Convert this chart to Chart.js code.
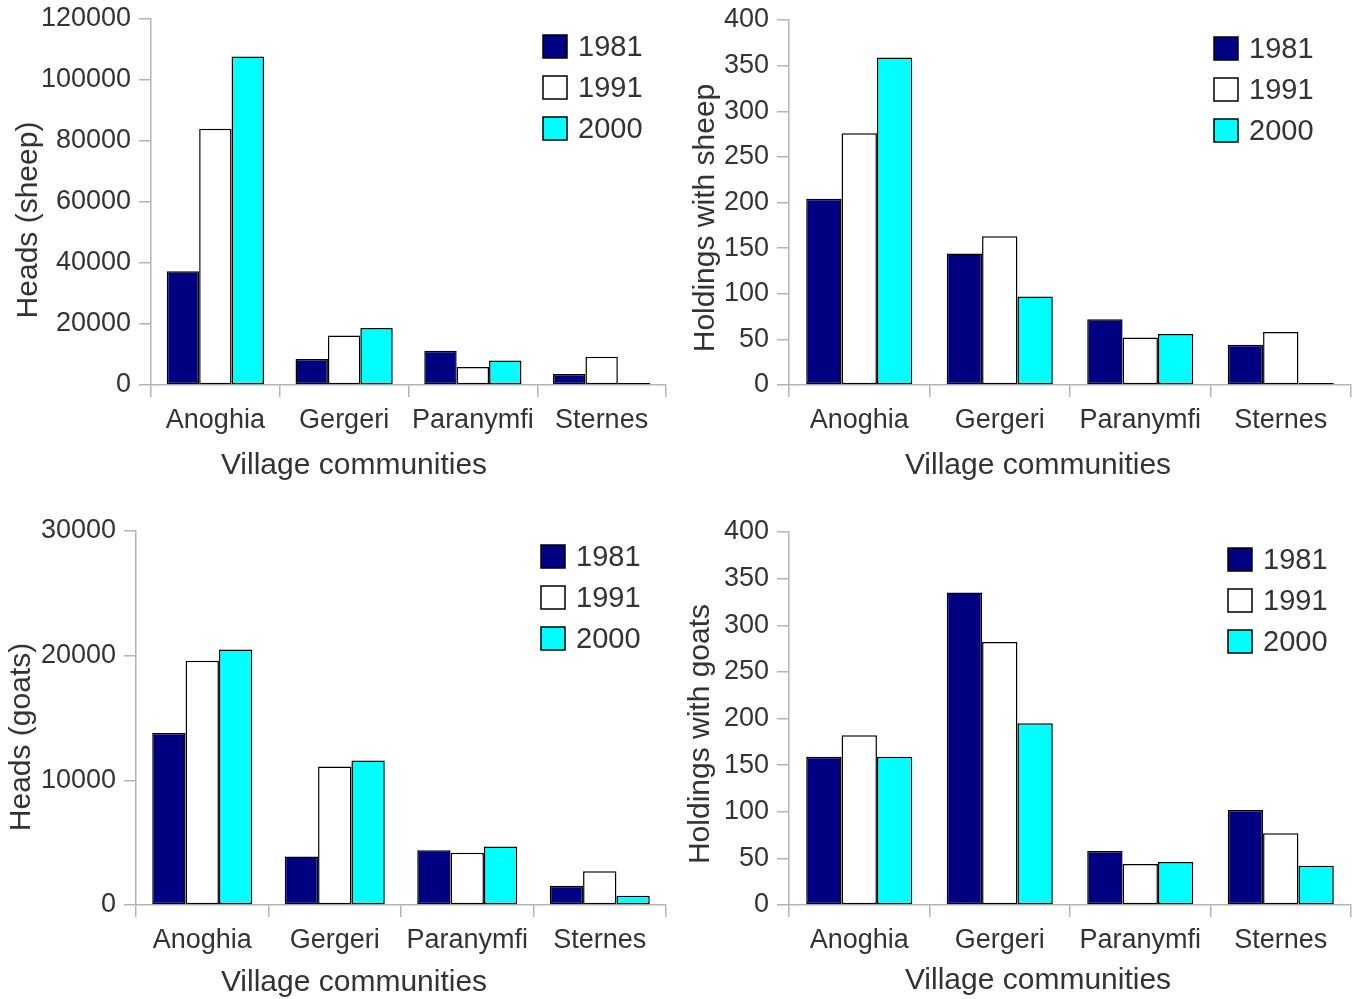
<!DOCTYPE html>
<html>
<head>
<meta charset="utf-8">
<title>Sheep and goats in the village communities</title>
<script src="https://cdn.jsdelivr.net/npm/chart.js@4.4.1/dist/chart.umd.min.js"></script>
<style>
  html, body { margin: 0; padding: 0; background: #ffffff; }
  #wrap { position: relative; width: 1356px; height: 999px; overflow: hidden; }
  #wrap canvas { position: absolute; left: 0; top: 0; }
</style>
</head>
<body>
<div id="wrap">
  <canvas id="sheepHeads" width="1356" height="999"></canvas>
  <canvas id="sheepHoldings" width="1356" height="999"></canvas>
  <canvas id="goatHeads" width="1356" height="999"></canvas>
  <canvas id="goatHoldings" width="1356" height="999"></canvas>
</div>
<script>
// Categories and census years
const villages = ['Anoghia', 'Gergeri', 'Paranymfi', 'Sternes'];
const years = ['1981', '1991', '2000'];

// Heads of sheep
const sheepHeads1981 = [37300, 8500, 11200, 3600];
const sheepHeads1991 = [84000, 16200, 5900, 9300];
const sheepHeads2000 = [107700, 18700, 8000, 0];

// Holdings with sheep
const sheepHoldings1981 = [204, 144, 72, 44];
const sheepHoldings1991 = [276, 163, 52, 58];
const sheepHoldings2000 = [359, 97, 56, 0];

// Heads of goats
const goatHeads1981 = [13800, 3900, 4400, 1550];
const goatHeads1991 = [19600, 11100, 4200, 2700];
const goatHeads2000 = [20500, 11600, 4700, 750];

// Holdings with goats
const goatHoldings1981 = [159, 335, 58, 102];
const goatHoldings1991 = [182, 282, 44, 77];
const goatHoldings2000 = [159, 195, 46, 42];

// Value axis ranges: [max, tick step, labelled step]
const sheepHeadsAxis = [120000, 10000, 20000];
const sheepHoldingsAxis = [400, 50, 50];
const goatHeadsAxis = [30000, 10000, 10000];
const goatHoldingsAxis = [400, 50, 50];

// Axis titles
const xTitle = 'Village communities';
const sheepHeadsTitle = 'Heads (sheep)';
const sheepHoldingsTitle = 'Holdings with sheep';
const goatHeadsTitle = 'Heads (goats)';
const goatHoldingsTitle = 'Holdings with goats';

const FILLS = ['#000080', '#ffffff', '#00ffff'];
const TEXT = '#333333';
const AXIS = '#b4b4b4';
const FAMILY = '"Liberation Sans", Arial, Helvetica, sans-serif';

Chart.defaults.font.family = FAMILY;
Chart.defaults.color = TEXT;

// Axis titles and the year key, drawn on top of each panel
const decorPlugin = {
  id: 'decor',
  afterDraw(chart, args, o) {
    const ctx = chart.ctx;
    ctx.save();
    ctx.fillStyle = TEXT;
    ctx.font = '30px ' + FAMILY;
    ctx.textAlign = 'center';
    ctx.textBaseline = 'middle';
    ctx.fillText(o.xTitle, o.xTitleX, o.xTitleY);
    ctx.save();
    ctx.translate(o.yTitleX, o.yTitleY);
    ctx.rotate(-Math.PI / 2);
    ctx.fillText(o.yTitle, 0, 0);
    ctx.restore();

    ctx.font = '29px ' + FAMILY;
    ctx.textAlign = 'left';
    chart.data.datasets.forEach((ds, i) => {
      const y = o.keyY + i * 41;
      ctx.fillStyle = ds.backgroundColor;
      ctx.fillRect(o.keyX, y, 24, 23);
      ctx.strokeStyle = '#000000';
      ctx.lineWidth = 1.5;
      ctx.strokeRect(o.keyX, y, 24, 23);
      ctx.fillStyle = TEXT;
      ctx.fillText(ds.label, o.keyX + 35, y + 12.5);
    });
    ctx.restore();
  }
};

function makePanel(id, series, axis, yTitle, frame) {
  const [yMax, step, labelStep] = axis;
  const Y_W = 120, X_H = 60;
  return new Chart(document.getElementById(id), {
    type: 'bar',
    data: {
      labels: villages,
      datasets: years.map((yr, i) => ({
        label: yr,
        data: series[i],
        backgroundColor: FILLS[i],
        borderColor: '#000000',
        borderWidth: 1.5,
        borderSkipped: false,
        minBarLength: 2,
        categoryPercentage: 0.755,
        barPercentage: 1.0
      }))
    },
    options: {
      responsive: false,
      animation: false,
      events: [],
      layout: {
        padding: {
          left: frame.left - Y_W,
          right: 1356 - frame.right,
          top: frame.top,
          bottom: 999 - frame.bottom - X_H
        }
      },
      scales: {
        x: {
          type: 'category',
          offset: true,
          grid: { offset: true, drawOnChartArea: false, drawTicks: true, tickLength: 12, color: AXIS, lineWidth: 1.5 },
          border: { display: true, color: AXIS, width: 1.5 },
          ticks: { font: { size: 27 }, color: TEXT, padding: 7, maxRotation: 0, autoSkip: false },
          afterFit(s) { s.height = X_H; s.paddingLeft = 0; s.paddingRight = 0; }
        },
        y: {
          min: 0,
          max: yMax,
          grid: { drawOnChartArea: false, drawTicks: true, tickLength: 12, color: AXIS, lineWidth: 1.5 },
          border: { display: true, color: AXIS, width: 1.5 },
          ticks: {
            stepSize: step,
            font: { size: 27 },
            color: TEXT,
            padding: 8,
            callback: (v) => (v % labelStep === 0 ? String(v) : '')
          },
          afterFit(s) { s.width = Y_W; s.paddingTop = 0; s.paddingBottom = 0; }
        }
      },
      plugins: {
        legend: { display: false },
        tooltip: { enabled: false },
        decor: {
          xTitle: xTitle, xTitleX: frame.xTitleX, xTitleY: frame.xTitleY,
          yTitle: yTitle, yTitleX: frame.yTitleX, yTitleY: frame.yTitleY,
          keyX: frame.keyX, keyY: frame.keyY
        }
      }
    },
    plugins: [decorPlugin]
  });
}

makePanel('sheepHeads', [sheepHeads1981, sheepHeads1991, sheepHeads2000], sheepHeadsAxis, sheepHeadsTitle,
  { left: 151, right: 666, top: 19, bottom: 385, xTitleX: 354, xTitleY: 466, yTitleX: 29, yTitleY: 220, keyX: 543, keyY: 35 });

makePanel('sheepHoldings', [sheepHoldings1981, sheepHoldings1991, sheepHoldings2000], sheepHoldingsAxis, sheepHoldingsTitle,
  { left: 789, right: 1351, top: 20, bottom: 385, xTitleX: 1038, xTitleY: 466, yTitleX: 706, yTitleY: 218, keyX: 1214, keyY: 37 });

makePanel('goatHeads', [goatHeads1981, goatHeads1991, goatHeads2000], goatHeadsAxis, goatHeadsTitle,
  { left: 136, right: 666, top: 531, bottom: 905, xTitleX: 354, xTitleY: 983, yTitleX: 22, yTitleY: 737, keyX: 541, keyY: 545 });

makePanel('goatHoldings', [goatHoldings1981, goatHoldings1991, goatHoldings2000], goatHoldingsAxis, goatHoldingsTitle,
  { left: 789, right: 1351, top: 532, bottom: 905, xTitleX: 1038, xTitleY: 981, yTitleX: 701, yTitleY: 734, keyX: 1228, keyY: 548 });
</script>
</body>
</html>
